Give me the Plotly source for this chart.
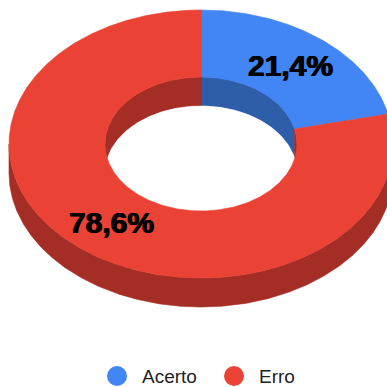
import numpy as np
import plotly.graph_objects as go

# ---- data ----
categories = ["Acerto", "Erro"]
percents = [21.4, 78.6]
top_colors = ["#4285F4", "#EA4335"]
side_colors = ["#2E5DA9", "#A42D25"]

# ---- geometry (pixel space) ----
W = H = 387
cx, cy = 201.0, 144.0
rx, ry = 192.0, 134.0
hole = 0.5
depth = 29.0


def pt(theta_deg, r, dy=0.0):
    t = np.radians(theta_deg)
    return cx + rx * r * np.sin(t), cy - ry * r * np.cos(t) + dy


def arc(a0, a1, r, dy=0.0, n=None):
    if n is None:
        n = max(int(abs(a1 - a0) * 2), 4)
    th = np.linspace(a0, a1, n)
    x, y = pt(th, r, dy)
    return list(x), list(y)


def intersect(a0, a1, b0, b1):
    s, e = max(a0, b0), min(a1, b1)
    return (s, e) if e > s else None


fig = go.Figure()


def poly(xs, ys, color):
    fig.add_trace(go.Scatter(
        x=xs + [xs[0]], y=ys + [ys[0]], mode="lines", fill="toself",
        fillcolor=color, line=dict(color=color, width=0.6),
        hoverinfo="skip", showlegend=False))


# slice angle ranges (degrees, clockwise from top)
total = sum(percents)
bounds = []
acc = 0.0
for p in percents:
    a0 = acc / total * 360
    acc += p
    a1 = acc / total * 360
    bounds.append((a0, a1))

# 1. outer side walls (front half: 90..270)
for (a0, a1), c in zip(bounds, side_colors):
    seg = intersect(a0, a1, 90, 270)
    if seg:
        x1, y1 = arc(seg[0], seg[1], 1.0)
        x2, y2 = arc(seg[1], seg[0], 1.0, depth)
        poly(x1 + x2, y1 + y2, c)

# 2. inner walls (back half: 270..360 and 0..90)
for (a0, a1), c in zip(bounds, side_colors):
    for b0, b1 in [(0, 90), (270, 360)]:
        seg = intersect(a0, a1, b0, b1)
        if seg:
            x1, y1 = arc(seg[0], seg[1], hole)
            x2, y2 = arc(seg[1], seg[0], hole, depth)
            poly(x1 + x2, y1 + y2, c)

# 3. see-through hole (white)
rxi, ryi = rx * hole, ry * hole
smin = depth / (2 * ryi)
if smin < 1:
    umax = np.sqrt(1 - smin ** 2)
    u = np.linspace(-umax, umax, 200)
    s = np.sqrt(np.clip(1 - u ** 2, 0, None))
    xu = list(cx + rxi * u)
    yu = list(cy + depth - ryi * s)
    xl = list((cx + rxi * u)[::-1])
    yl = list((cy + ryi * s)[::-1])
    poly(xu + xl, yu + yl, "#FFFFFF")

# 4. top faces
for (a0, a1), c in zip(bounds, top_colors):
    x1, y1 = arc(a0, a1, 1.0)
    x2, y2 = arc(a1, a0, hole)
    poly(x1 + x2, y1 + y2, c)

# labels
annotations = []
for (a0, a1), p in zip(bounds, percents):
    lx, ly = pt((a0 + a1) / 2, (1 + hole) / 2)
    annotations.append(dict(
        x=float(lx), y=float(ly), xref="x", yref="y", showarrow=False,
        text=f"{p:.1f}%".replace(".", ","),
        font=dict(family="Liberation Sans, Arial", size=30, color="#000000",
                  weight="bold", shadow="0.6px 0 0 #000, -0.6px 0 0 #000"),
        xanchor="center", yanchor="middle"))

# legend (manual)
leg_x = [117, 234]
leg_y = 376
fig.add_trace(go.Scatter(
    x=leg_x, y=[leg_y] * len(leg_x), mode="markers",
    marker=dict(size=20, color=top_colors, line=dict(width=0)),
    hoverinfo="skip", showlegend=False))
for xx, name in zip(leg_x, categories):
    annotations.append(dict(
        x=xx + 23, y=leg_y, xref="x", yref="y", showarrow=False,
        text=name, xanchor="left", yanchor="middle",
        font=dict(family="Liberation Sans, Arial", size=19, color="#222222")))

fig.update_layout(
    width=W, height=H, autosize=False,
    margin=dict(l=0, r=0, t=0, b=0),
    paper_bgcolor="#FFFFFF", plot_bgcolor="#FFFFFF",
    xaxis=dict(range=[0, W], visible=False, fixedrange=True),
    yaxis=dict(range=[H, 0], visible=False, fixedrange=True),
    annotations=annotations,
    showlegend=False,
)

fig.write_html("out.html")
